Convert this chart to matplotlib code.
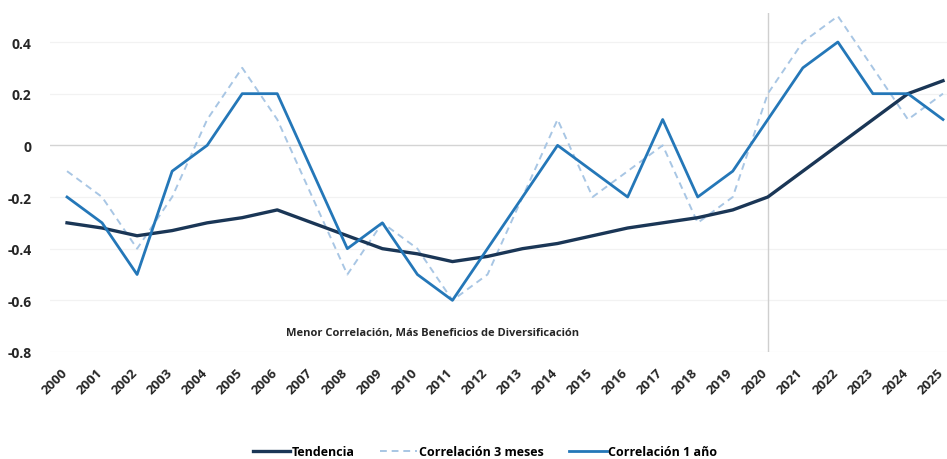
import matplotlib
matplotlib.use("Agg")
import matplotlib.pyplot as plt
import matplotlib.transforms as mtransforms
from matplotlib.lines import Line2D

plt.rcParams['font.family'] = ['Open Sans', 'DejaVu Sans']

years = [str(y) for y in range(2000, 2026)]

tendencia = [-0.30, -0.32, -0.35, -0.33, -0.30, -0.28, -0.25, -0.30, -0.35, -0.40,
             -0.42, -0.45, -0.43, -0.40, -0.38, -0.35, -0.32, -0.30, -0.28, -0.25,
             -0.20, -0.10, 0.00, 0.10, 0.20, 0.25]

corr_3m = [-0.10, -0.20, -0.40, -0.20, 0.10, 0.30, 0.10, -0.20, -0.50, -0.30,
           -0.40, -0.60, -0.50, -0.20, 0.10, -0.20, -0.10, 0.00, -0.30, -0.20,
           0.20, 0.40, 0.50, 0.30, 0.10, 0.20]

corr_1a = [-0.20, -0.30, -0.50, -0.10, 0.00, 0.20, 0.20, -0.10, -0.40, -0.30,
           -0.50, -0.60, -0.40, -0.20, 0.00, -0.10, -0.20, 0.10, -0.20, -0.10,
           0.10, 0.30, 0.40, 0.20, 0.20, 0.10]

y_ticks = [0.4, 0.2, 0.0, -0.2, -0.4, -0.6, -0.8]
y_tick_labels = ['0.4', '0.2', '0', '-0.2', '-0.4', '-0.6', '-0.8']

series_names = ['Tendencia', 'Correlación 3 meses', 'Correlación 1 año']
note = 'Menor Correlación, Más Beneficios de Diversificación'

W, H = 947, 460
fig = plt.figure(figsize=(W / 100, H / 100), dpi=100)
left, right, top, bottom = 49.5, 947, 14, 353
ax = fig.add_axes([left / W, (H - bottom) / H, (right - left) / W, (bottom - top) / H])

x = list(range(len(years)))
c_trend = '#1a3656'
c_3m = '#a8c6e4'
c_1a = '#2477b8'

# faint horizontal grid and a stronger zero line
for yv in y_ticks:
    if yv == 0:
        ax.axhline(0, color='#d4d4d4', lw=1.0, zorder=1)
    else:
        ax.axhline(yv, color='#f2f2f2', lw=0.9, zorder=0)

ax.axvline(years.index('2020'), color='#cfcfcf', lw=1.0, zorder=1)

ax.plot(x, corr_3m, color=c_3m, lw=1.4, ls=(0, (3.5, 2.5)), zorder=2)
ax.plot(x, tendencia, color=c_trend, lw=2.4, zorder=3)
ax.plot(x, corr_1a, color=c_1a, lw=2.0, zorder=4)

ax.set_xlim(-0.5, 25 + 4 / 35)
ax.set_ylim(-0.8, 0.4 + 29 / 258.3)

ax.set_yticks(y_ticks)
ax.set_yticklabels(y_tick_labels, fontsize=10, fontweight='bold', color='#262626')
ax.set_xticks(x)
ax.set_xticklabels(years, rotation=45, ha='right', rotation_mode='anchor',
                   fontsize=9.5, fontweight='bold', color='#262626')
ax.tick_params(axis='y', length=0, pad=13)
ax.tick_params(axis='x', length=0, pad=10)
shift = mtransforms.ScaledTranslation(-6.5 / 100, 0, fig.dpi_scale_trans)
for lbl in ax.get_xticklabels():
    lbl.set_transform(lbl.get_transform() + shift)
for s in ax.spines.values():
    s.set_visible(False)

ax.text(10.43, -0.723, note, ha='center', va='center', fontsize=8,
        fontweight='bold', color='#262626')

handles = [
    Line2D([], [], color=c_trend, lw=2.4),
    Line2D([], [], color=c_3m, lw=1.4, ls=(0, (3.5, 2.5))),
    Line2D([], [], color=c_1a, lw=2.0),
]
fig.legend(handles, series_names, loc='center', bbox_to_anchor=(485 / W, 1 - 453 / H),
           ncol=3, frameon=False, prop={'weight': 'bold', 'size': 9},
           handlelength=3.0, handletextpad=0.15, columnspacing=2.0)

fig.savefig('out.png', dpi=100)
